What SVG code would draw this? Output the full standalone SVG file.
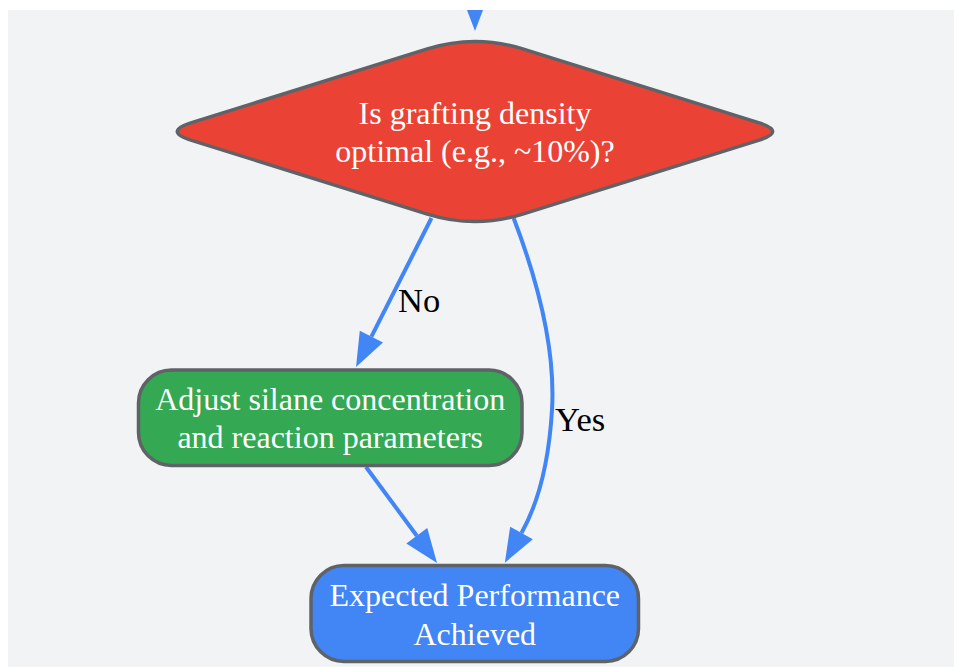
<svg xmlns="http://www.w3.org/2000/svg" width="954" height="667" viewBox="0 0 954 667">
<style>
.bg{fill:#f1f3f4}
.node{stroke:#5f6368;stroke-width:3.5}
.t{font-family:"Liberation Serif","Times New Roman",serif;font-size:32px;fill:#ffffff;text-anchor:middle}
.lbl{font-family:"Liberation Serif","Times New Roman",serif;font-size:34.5px;fill:#000000}
.edge{fill:none;stroke:#4285f4;stroke-width:4}
</style>
<defs>
<marker id="arr" markerUnits="userSpaceOnUse" markerWidth="34" markerHeight="26" refX="0" refY="13" orient="auto" overflow="visible">
<path d="M0,0 L34,13 L0,26 Z" fill="#4285f4"/>
</marker>
<clipPath id="clip"><rect x="8" y="10" width="946" height="657"/></clipPath>
</defs>
<rect class="bg" x="8" y="10" width="946" height="657"/>
<g id="connectors" clip-path="url(#clip)">
<path class="edge" d="M475,-20 L475,-3" marker-end="url(#arr)"/>
<path class="edge" d="M431.5,218 L371.4,336.7" marker-end="url(#arr)"/>
<path class="edge" d="M513.6,218 C545,300 555,360 552,410 C549,460 540,500 521.5,533" marker-end="url(#arr)"/>
<path class="edge" d="M366,467 L416.8,535.7" marker-end="url(#arr)"/>
<text class="lbl" x="398" y="312">No</text>
<text class="lbl" x="555" y="431">Yes</text>
</g>
<g id="decision">
<path class="node" fill="#ea4335" d="M427.3,48.9 Q475,34 522.7,48.9 L758.4,122.6 Q787,131.5 758.4,140.4 L522.7,214.1 Q475,229 427.3,214.1 L191.6,140.4 Q163,131.5 191.6,122.6 Z"/>
<text class="t" x="475" y="124">Is grafting density</text>
<text class="t" x="475" y="162">optimal (e.g., ~10%)?</text>
</g>
<g id="adjust">
<rect class="node" fill="#34a853" x="138.5" y="370" width="383.5" height="95.5" rx="33" ry="33"/>
<text class="t" x="330.2" y="410">Adjust silane concentration</text>
<text class="t" x="330.2" y="448">and reaction parameters</text>
</g>
<g id="achieved">
<rect class="node" fill="#4285f4" x="311" y="565.5" width="327.5" height="96" rx="33" ry="33"/>
<text class="t" x="474.8" y="606">Expected Performance</text>
<text class="t" x="474.8" y="645">Achieved</text>
</g>
</svg>
